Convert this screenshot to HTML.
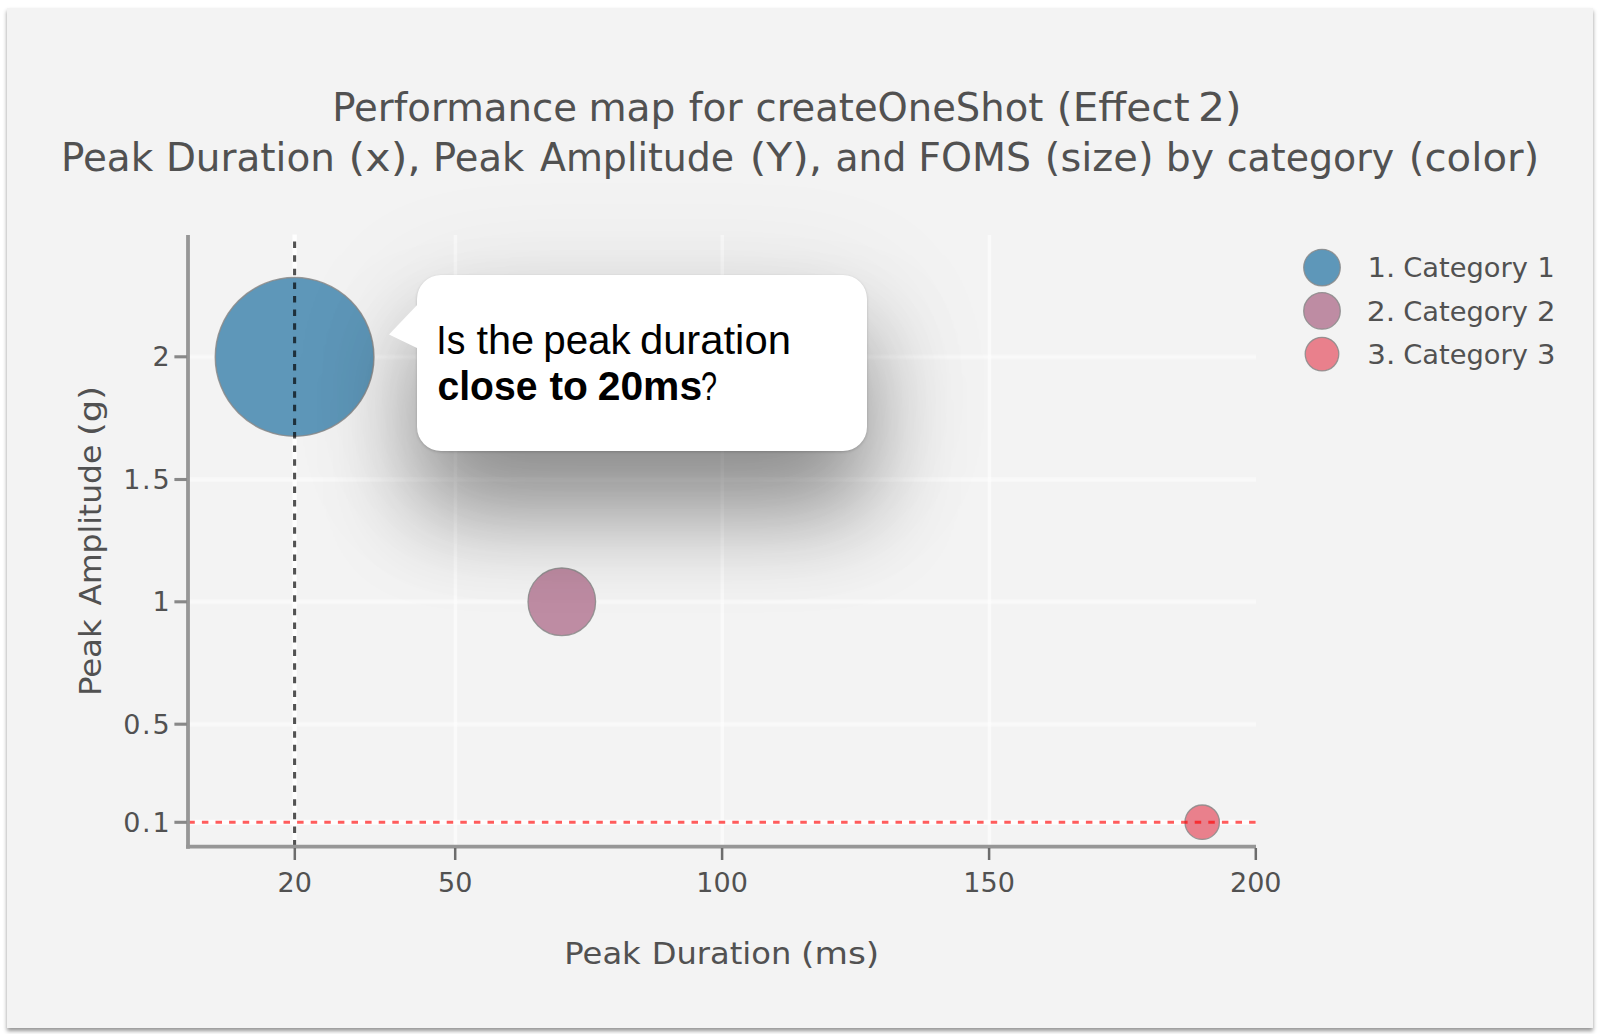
<!DOCTYPE html>
<html lang="en">
<head>
<meta charset="utf-8">
<title>Performance map for createOneShot (Effect 2)</title>
<style>
  html, body { margin: 0; padding: 0; }
  body {
    width: 1600px; height: 1034px; overflow: hidden; position: relative;
    background: #ffffff;
    font-family: "DejaVu Sans", "Liberation Sans", sans-serif;
  }
  .card {
    position: absolute; left: 7px; top: 7.5px; width: 1585.5px; height: 1020px;
    background: #f3f3f3;
    box-shadow: 0 2.5px 4px rgba(0,0,0,0.42);
  }
  svg.chart, svg.over { position: absolute; left: 0; top: 0; }
  svg.over text { font-family: "Liberation Sans", sans-serif; font-size: 40px; fill: #000000; }
  svg.chart text { font-family: "DejaVu Sans", "Liberation Sans", sans-serif; fill: #515151; }
  .tip {
    position: absolute; left: 417px; top: 274.5px; width: 450px; height: 176.5px;
    background: #ffffff; border-radius: 24px;
    box-shadow:
      0 62px 90px 0 rgba(0,0,0,0.37),
      0 30px 130px 10px rgba(0,0,0,0.10),
      0 1px 3px rgba(0,0,0,0.18);
  }
  .tip .ptr {
    position: absolute; left: -29px; top: 29px; width: 30px; height: 45px;
  }
</style>
</head>
<body>
<div class="card"></div>

<svg class="chart" width="1600" height="1034" viewBox="0 0 1600 1034">
  <!-- grid lines -->
  <g stroke="#ffffff" fill="none">
    <g stroke-width="3.6" stroke-opacity="0.56">
      <line x1="455.4" y1="235" x2="455.4" y2="846"/>
      <line x1="722.3" y1="235" x2="722.3" y2="846"/>
      <line x1="989.4" y1="235" x2="989.4" y2="846"/>
      <line x1="294.6" y1="234.5" x2="294.6" y2="846" stroke-width="4.4" stroke-opacity="0.88"/>
    </g>
    <g stroke-width="2.6" stroke-opacity="0.28">
      <line x1="190" y1="357" x2="1256" y2="357"/>
      <line x1="190" y1="479.7" x2="1256" y2="479.7"/>
      <line x1="190" y1="601.9" x2="1256" y2="601.9"/>
      <line x1="190" y1="724.3" x2="1256" y2="724.3"/>
    </g>
    <g stroke-width="5" stroke-opacity="0.36">
      <line x1="190" y1="356.9" x2="1256" y2="356.9"/>
      <line x1="190" y1="479.6" x2="1256" y2="479.6"/>
      <line x1="190" y1="601.8" x2="1256" y2="601.8"/>
      <line x1="190" y1="724.2" x2="1256" y2="724.2"/>
      <line x1="190" y1="822.3" x2="1256" y2="822.3" stroke-width="5" stroke-opacity="0.85"/>
    </g>
  </g>

  <!-- bubbles -->
  <circle cx="294.6" cy="356.9" r="79.3" fill="#5e97b9" stroke="#8a8a8a" stroke-opacity="0.85" stroke-width="1.5"/>
  <circle cx="561.8" cy="601.8" r="33.8" fill="#be8ca3" stroke="#8a8a8a" stroke-opacity="0.85" stroke-width="1.3"/>
  <circle cx="1202.2" cy="822.2" r="17.2" fill="#e9808c" stroke="#8a8a8a" stroke-opacity="0.85" stroke-width="1.3"/>

  <!-- reference lines -->
  <line x1="294.6" y1="241.6" x2="294.6" y2="846.6" stroke="#000000" stroke-opacity="0.68" stroke-width="3.1" stroke-dasharray="6.5 7.1"/>
  <line x1="188.3" y1="822.3" x2="1256" y2="822.3" stroke="#ff0000" stroke-opacity="0.64" stroke-width="3.1" stroke-dasharray="6.5 7.1"/>

  <!-- axes -->
  <g stroke="#969696" stroke-width="3.8" fill="none">
    <line x1="188" y1="235" x2="188" y2="848.8"/>
    <line x1="186" y1="846.7" x2="1256" y2="846.7"/>
  </g>
  <!-- ticks -->
  <g stroke="#6c6c6c" stroke-width="2.5" fill="none">
    <line x1="294.8" y1="848" x2="294.8" y2="860"/>
    <line x1="455.2" y1="848" x2="455.2" y2="860"/>
    <line x1="722.1" y1="848" x2="722.1" y2="860"/>
    <line x1="989.1" y1="848" x2="989.1" y2="860"/>
    <line x1="1255.8" y1="848" x2="1255.8" y2="860"/>
  </g>
  <g stroke="#888888" stroke-width="3.1" fill="none">
    <line x1="174.4" y1="356.8" x2="187" y2="356.8"/>
    <line x1="174.4" y1="479.5" x2="187" y2="479.5"/>
    <line x1="174.4" y1="601.8" x2="187" y2="601.8"/>
    <line x1="174.4" y1="724.2" x2="187" y2="724.2"/>
    <line x1="174.4" y1="822.3" x2="187" y2="822.3"/>
  </g>

  <!-- x tick labels -->
  <g font-size="27" text-anchor="middle">
    <text x="294.8" y="892.3">20</text>
    <text x="455.2" y="892.3">50</text>
    <text x="722.1" y="892.3">100</text>
    <text x="989.1" y="892.3">150</text>
    <text x="1255.8" y="892.3">200</text>
  </g>
  <!-- y tick labels -->
  <g font-size="27" text-anchor="end">
    <text x="169.6" y="366.3">2</text>
    <text x="169.6" y="489.2" textLength="46.4" lengthAdjust="spacing">1.5</text>
    <text x="169.6" y="611.4">1</text>
    <text x="169.6" y="733.6" textLength="46.4" lengthAdjust="spacing">0.5</text>
    <text x="169.6" y="831.6" textLength="46.4" lengthAdjust="spacing">0.1</text>
  </g>

  <!-- titles -->
  <text y="120.5" font-size="38.2"><tspan x="332.2" textLength="244.82" lengthAdjust="spacingAndGlyphs">Performance</tspan> <tspan x="588.4" textLength="86.99" lengthAdjust="spacingAndGlyphs">map</tspan> <tspan x="688.73" textLength="53.8" lengthAdjust="spacingAndGlyphs">for</tspan> <tspan x="755.49" textLength="287.79" lengthAdjust="spacingAndGlyphs">createOneShot</tspan> <tspan x="1056.81" textLength="132.81" lengthAdjust="spacingAndGlyphs">(Effect</tspan> <tspan x="1197.91" textLength="43.66" lengthAdjust="spacingAndGlyphs">2)</tspan></text>
  <text y="170.5" font-size="38.2"><tspan x="60.93" textLength="92.27" lengthAdjust="spacingAndGlyphs">Peak</tspan> <tspan x="165.92" textLength="168.99" lengthAdjust="spacingAndGlyphs">Duration</tspan> <tspan x="348.64" textLength="72.34" lengthAdjust="spacingAndGlyphs">(x),</tspan> <tspan x="432.98" textLength="91.21" lengthAdjust="spacingAndGlyphs">Peak</tspan> <tspan x="540.01" textLength="194.18" lengthAdjust="spacingAndGlyphs">Amplitude</tspan> <tspan x="749.66" textLength="72.58" lengthAdjust="spacingAndGlyphs">(Y),</tspan> <tspan x="835.53" textLength="70.77" lengthAdjust="spacingAndGlyphs">and</tspan> <tspan x="918.37" textLength="112.66" lengthAdjust="spacingAndGlyphs">FOMS</tspan> <tspan x="1044.86" textLength="108.61" lengthAdjust="spacingAndGlyphs">(size)</tspan> <tspan x="1165.88" textLength="48.27" lengthAdjust="spacingAndGlyphs">by</tspan> <tspan x="1226.77" textLength="167.5" lengthAdjust="spacingAndGlyphs">category</tspan> <tspan x="1408.84" textLength="130.4" lengthAdjust="spacingAndGlyphs">(color)</tspan></text>
  <text y="963.7" font-size="31"><tspan x="564.39" textLength="76.36" lengthAdjust="spacingAndGlyphs">Peak</tspan> <tspan x="651.69" textLength="139.67" lengthAdjust="spacingAndGlyphs">Duration</tspan> <tspan x="801.08" textLength="78.14" lengthAdjust="spacingAndGlyphs">(ms)</tspan></text>
  <text transform="translate(101.4,693) rotate(-90)" font-size="31"><tspan x="-3.13" textLength="76.78" lengthAdjust="spacingAndGlyphs">Peak</tspan> <tspan x="87.49" textLength="160.81" lengthAdjust="spacingAndGlyphs">Amplitude</tspan> <tspan x="256.98" textLength="49.99" lengthAdjust="spacingAndGlyphs">(g)</tspan></text>

  <!-- legend -->
  <circle cx="1322" cy="267.6" r="18.3" fill="#5e97b9" stroke="#8a8a8a" stroke-opacity="0.85" stroke-width="1.3"/>
  <circle cx="1322" cy="310.9" r="18.3" fill="#be8ca3" stroke="#8a8a8a" stroke-opacity="0.85" stroke-width="1.3"/>
  <circle cx="1322" cy="354.1" r="16.8" fill="#e9808c" stroke="#8a8a8a" stroke-opacity="0.85" stroke-width="1.3"/>
  <g font-size="27.2">
    <text y="277.4"><tspan x="1367.5" textLength="27.7" lengthAdjust="spacingAndGlyphs">1.</tspan> <tspan x="1403.24" textLength="124.56" lengthAdjust="spacingAndGlyphs">Category</tspan> <tspan x="1537.43" textLength="17.17" lengthAdjust="spacingAndGlyphs">1</tspan></text>
    <text y="320.7"><tspan x="1366.8" textLength="28.49" lengthAdjust="spacingAndGlyphs">2.</tspan> <tspan x="1403.24" textLength="124.56" lengthAdjust="spacingAndGlyphs">Category</tspan> <tspan x="1536.96" textLength="18.51" lengthAdjust="spacingAndGlyphs">2</tspan></text>
    <text y="363.8"><tspan x="1367.24" textLength="27.99" lengthAdjust="spacingAndGlyphs">3.</tspan> <tspan x="1403.24" textLength="124.56" lengthAdjust="spacingAndGlyphs">Category</tspan> <tspan x="1536.96" textLength="18.51" lengthAdjust="spacingAndGlyphs">3</tspan></text>
  </g>
</svg>

<div class="tip">
  <svg class="ptr" width="30" height="45" viewBox="0 0 30 45">
    <polygon points="30,0 1,30.5 30,44.5" fill="#ffffff"/>
  </svg>
</div>

<svg class="over" width="1600" height="1034" viewBox="0 0 1600 1034">
  <text y="353.75" lengthAdjust="spacingAndGlyphs"><tspan x="436.3" textLength="29" lengthAdjust="spacingAndGlyphs">Is</tspan> <tspan x="476.5" textLength="57.7" lengthAdjust="spacingAndGlyphs">the</tspan> <tspan x="543.2" textLength="87.5" lengthAdjust="spacingAndGlyphs">peak</tspan> <tspan x="639.9" textLength="151" lengthAdjust="spacingAndGlyphs">duration</tspan></text>
  <text y="400"><tspan font-weight="700"><tspan x="437.5" textLength="100" lengthAdjust="spacingAndGlyphs">close</tspan> <tspan x="549.5" textLength="38.5" lengthAdjust="spacingAndGlyphs">to</tspan> <tspan x="597.7" textLength="104.4" lengthAdjust="spacingAndGlyphs">20ms</tspan></tspan><tspan x="701" textLength="16" lengthAdjust="spacingAndGlyphs">?</tspan></text>
</svg>
</body>
</html>
